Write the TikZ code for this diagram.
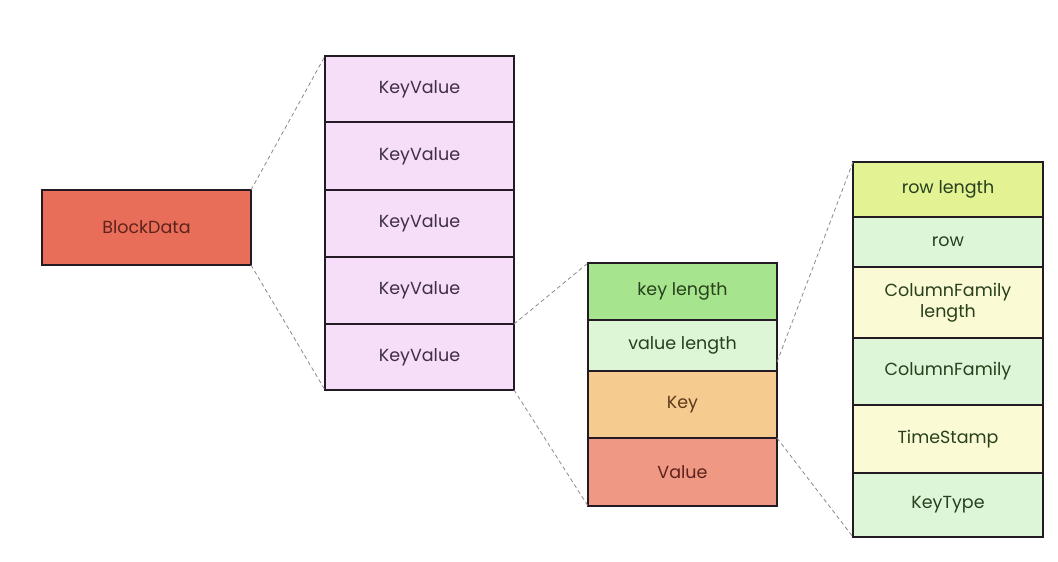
\documentclass[tikz,border=0pt]{standalone}
\usepackage{fontspec}
\setmainfont{Poppins}
\usetikzlibrary{calc}
\definecolor{bdfill}{HTML}{E96E5A}
\definecolor{kvfill}{HTML}{F6DDF8}
\definecolor{klfill}{HTML}{A6E58E}
\definecolor{vlfill}{HTML}{DDF7D6}
\definecolor{keyfill}{HTML}{F6CB8F}
\definecolor{valfill}{HTML}{EF9884}
\definecolor{rlfill}{HTML}{E3F394}
\definecolor{palegreen}{HTML}{DDF6D7}
\definecolor{paleyellow}{HTML}{FAFAD4}
\definecolor{edge}{HTML}{241A24}
\definecolor{kvtext}{HTML}{3E2E48}
\definecolor{greentext}{HTML}{28401C}
\definecolor{redtext}{HTML}{5E221C}
\definecolor{browntext}{HTML}{5E3A1C}
\definecolor{dashgray}{HTML}{8A8A8A}
\begin{document}
\begin{tikzpicture}[x=1pt,y=-1pt,
  cell/.style={draw=edge, line width=2pt, rectangle, inner sep=0pt, outer sep=0pt,
    font=\fontsize{17.5}{21}\selectfont, align=center},
  kvcell/.style={cell, fill=kvfill, text=kvtext, minimum width=189pt},
  midcell/.style={cell, minimum width=189pt},
  rcell/.style={cell, text=greentext, minimum width=190pt},
  zoomline/.style={draw=dashgray, line width=0.8pt, dash pattern=on 4pt off 3pt}]
\useasboundingbox (0,0) rectangle (1058,562);

% block
\node[cell, fill=bdfill, text=redtext, minimum width=209pt, minimum height=75pt] (bd) at (146.5,227.5) {BlockData};

% key-value list
\node[kvcell, minimum height=66pt] (kv1) at (419.5,89) {KeyValue};
\node[kvcell, minimum height=68pt] (kv2) at (419.5,156) {KeyValue};
\node[kvcell, minimum height=67pt] (kv3) at (419.5,223.5) {KeyValue};
\node[kvcell, minimum height=67pt] (kv4) at (419.5,290.5) {KeyValue};
\node[kvcell, minimum height=66pt] (kv5) at (419.5,357) {KeyValue};

% one key-value
\node[midcell, fill=klfill, text=greentext, minimum height=57pt] (kl) at (682.5,291.5) {key length};
\node[midcell, fill=vlfill, text=greentext, minimum height=51pt] (vl) at (682.5,345.5) {value length};
\node[midcell, fill=keyfill, text=browntext, minimum height=67pt] (key) at (682.5,404.5) {Key};
\node[midcell, fill=valfill, text=redtext, minimum height=68pt] (val) at (682.5,472) {Value};

% key layout
\node[rcell, fill=rlfill, minimum height=55pt] (rl) at (948,189.5) {row length};
\node[rcell, fill=palegreen, minimum height=50pt] (row) at (948,242) {row};
\node[rcell, fill=paleyellow, minimum height=71pt] (cfl) at (948,302.5) {ColumnFamily\\length};
\node[rcell, fill=palegreen, minimum height=67pt] (cf) at (948,371.5) {ColumnFamily};
\node[rcell, fill=paleyellow, minimum height=68pt] (ts) at (948,439) {TimeStamp};
\node[rcell, fill=palegreen, minimum height=64pt] (kt) at (948,505) {KeyType};

% zoom connectors
\draw[zoomline] (bd.north east) -- (kv1.north west);
\draw[zoomline] (bd.south east) -- (kv5.south west);
\draw[zoomline] (kv5.north east) -- (kl.north west);
\draw[zoomline] (kv5.south east) -- (val.south west);
\coordinate (vlr) at ([yshift=9pt]vl.south east);
\draw[zoomline] (vlr) -- (rl.north west);
\draw[zoomline] (val.north east) -- (kt.south west);
\end{tikzpicture}
\end{document}
